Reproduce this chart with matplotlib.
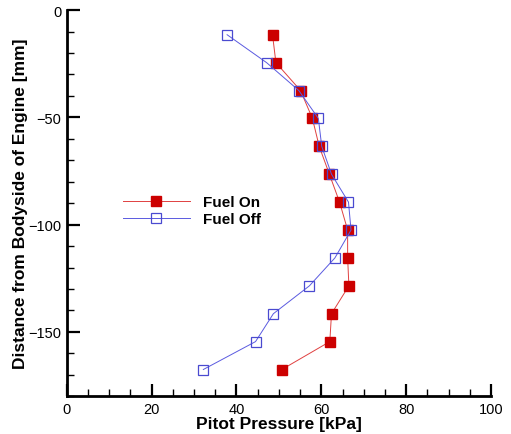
import matplotlib
matplotlib.use("Agg")
import matplotlib.pyplot as plt
from matplotlib.ticker import MultipleLocator

plt.rcParams['font.family'] = ['Liberation Sans', 'DejaVu Sans']

# Probe positions (distance from bodyside, mm)
distance = [-11.5, -24.5, -37.5, -50.5, -63.5, -76.5, -89.5,
            -102.5, -115.5, -128.5, -141.5, -154.5, -167.5]
# Pitot pressure profiles (kPa)
fuel_on = [48.5, 49.3, 55.1, 57.9, 59.5, 61.9, 64.3,
           66.2, 66.2, 66.5, 62.4, 62.0, 50.7]
fuel_off = [37.8, 47.1, 54.7, 59.3, 60.1, 62.4, 66.4,
            67.0, 63.2, 57.2, 48.7, 44.5, 32.2]

xlim = (0, 100)
ylim = (-180, 0)

fig = plt.figure(figsize=(5.11, 4.35), dpi=100)
ax = fig.add_axes([0.1305, 0.0866, 0.8305, 0.888])

red = '#cc0000'
red_line = '#e04040'
blue = '#4a4ad0'
blue_line = '#5a5ae0'

ax.plot(fuel_on, distance, color=red_line, lw=0.7, marker='s', ms=6.5,
        mfc=red, mec=red, label='Fuel On')
ax.plot(fuel_off, distance, color=blue_line, lw=0.7, marker='s', ms=7,
        mfc='none', mec=blue, mew=0.9, label='Fuel Off')

ax.set_xlim(*xlim)
ax.set_ylim(*ylim)
ax.xaxis.set_major_locator(MultipleLocator(20))
ax.xaxis.set_minor_locator(MultipleLocator(5))
ax.yaxis.set_major_locator(MultipleLocator(50))
ax.yaxis.set_minor_locator(MultipleLocator(10))

for s in ('top', 'right'):
    ax.spines[s].set_visible(False)
for s in ('left', 'bottom'):
    ax.spines[s].set_linewidth(2)

ax.tick_params(which='major', direction='in', length=9, width=1.6,
               labelsize=10.5, pad=4)
ax.tick_params(which='minor', direction='in', length=5, width=1.0)

ax.set_xlabel('Pitot Pressure [kPa]', fontsize=12.5, fontweight='bold',
              labelpad=0)
ax.set_ylabel('Distance from Bodyside of Engine [mm]', fontsize=12.5,
              fontweight='bold', labelpad=0)

leg = ax.legend(loc='upper left', bbox_to_anchor=(0.10, 0.557),
                frameon=False, fontsize=11, handlelength=4.4,
                handletextpad=0.85, labelspacing=0.22)
for t in leg.get_texts():
    t.set_fontweight('bold')

fig.savefig('out.png', dpi=100)
